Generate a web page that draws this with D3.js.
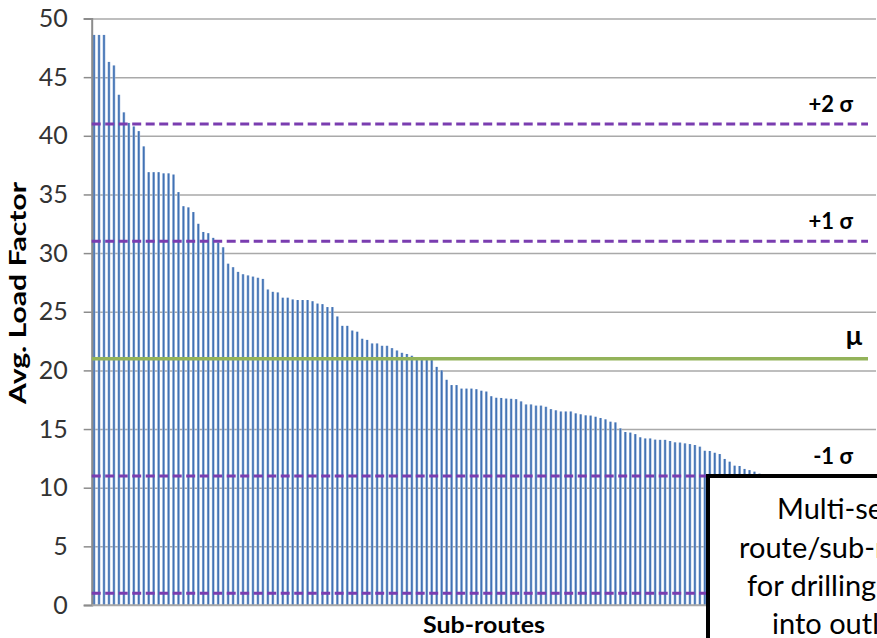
<!DOCTYPE html>
<html>
<head>
<meta charset="utf-8">
<script src="https://cdn.jsdelivr.net/npm/d3@7/dist/d3.min.js"></script>
<style>
  body { margin: 0; background: #fff; }
  #chart { width: 877px; height: 638px; overflow: hidden; }
</style>
</head>
<body>
<div id="chart"></div>
<script>
// Avg. load factor per sub-route, sorted descending (read off the picture;
// the tail under the call-out box is estimated)
const loadFactors = [
  48.6, 48.6, 48.6, 46.3, 46.0, 43.5, 42.0, 41.1, 40.8, 40.4,
  39.1, 36.9, 36.9, 36.9, 36.8, 36.8, 36.7, 35.2, 34.0, 33.9,
  33.5, 32.5, 31.8, 31.7, 31.3, 30.9, 30.5, 29.1, 28.8, 28.4,
  28.2, 28.1, 28.0, 27.9, 27.8, 26.9, 26.7, 26.65, 26.2, 26.2,
  26.05, 26.0, 26.0, 26.0, 25.9, 25.7, 25.65, 25.4, 25.4, 24.6,
  23.8, 23.8, 23.4, 23.3, 22.7, 22.6, 22.3, 22.3, 22.1, 22.1,
  21.9, 21.7, 21.5, 21.4, 21.25, 21.05, 21.0, 21.0, 20.9, 20.3,
  20.0, 19.2, 18.75, 18.75, 18.45, 18.45, 18.45, 18.4, 18.27, 18.2,
  17.8, 17.67, 17.65, 17.6, 17.58, 17.55, 17.36, 17.1, 17.1, 17.0,
  17.0, 16.9, 16.7, 16.6, 16.5, 16.5, 16.5, 16.34, 16.26, 16.17,
  16.15, 16.05, 15.94, 15.83, 15.63, 15.57, 15.06, 14.75, 14.7, 14.57,
  14.3, 14.2, 14.2, 14.1, 14.08, 14.08, 13.98, 13.87, 13.85, 13.78,
  13.72, 13.64, 13.5, 13.15, 13.13, 12.98, 12.87, 12.45, 12.22, 11.88,
  11.85, 11.6, 11.5, 11.37, 11.2, 11.0, 10.9, 10.7, 10.5, 10.3,
  10.0, 9.8, 9.5, 9.2, 9.0, 8.7, 8.3, 8.0, 7.6, 7.2,
  6.8, 6.3, 5.8, 5.2, 4.5, 3.6, 2.8, 2.0
];
const subRoutes = loadFactors.map((d, i) => "SR" + (i + 1));

const yTicks = [0, 5, 10, 15, 20, 25, 30, 35, 40, 45, 50];

// reference lines: mean and +/- sigma bands
const refLabels = ["+2 σ", "+1 σ", "μ", "-1 σ", "-2 σ"];
const refValues = [41, 31, 21, 11, 1];

const calloutLines = ["Multi-select", "route/sub-route", "for drilling down", "into outliers"];

class LoadFactorChart {
  constructor(_parentElement) {
    this.parentElement = _parentElement;
    this.initVis();
  }

  initVis() {
    let vis = this;

    vis.margin = { top: 18.5, right: 1, bottom: 33, left: 91.7 };
    vis.width = 877 - vis.margin.left - vis.margin.right;
    vis.height = 638 - vis.margin.top - vis.margin.bottom;

    vis.root = d3.select("#" + vis.parentElement)
      .append("svg")
      .attr("width", 877)
      .attr("height", 638);

    // bar gradient (light edges, darker core)
    let grad = vis.root.append("defs").append("linearGradient")
      .attr("id", "barGrad")
      .attr("x1", "0").attr("x2", "1").attr("y1", "0").attr("y2", "0");
    grad.append("stop").attr("offset", "0%").attr("stop-color", "#a2bbdf");
    grad.append("stop").attr("offset", "40%").attr("stop-color", "#4272b3");
    grad.append("stop").attr("offset", "60%").attr("stop-color", "#4272b3");
    grad.append("stop").attr("offset", "100%").attr("stop-color", "#a2bbdf");

    vis.svg = vis.root.append("g")
      .attr("transform", "translate(" + vis.margin.left + "," + vis.margin.top + ")");

    vis.x = d3.scaleBand().domain(subRoutes).range([0, vis.width]).paddingInner(0.45).paddingOuter(0.2);
    vis.y = d3.scaleLinear().domain([0, 50]).range([vis.height, 0]);

    vis.updateVis();
  }

  updateVis() {
    let vis = this;
    let font = "Lato, 'Noto Sans', sans-serif";

    // gridlines
    vis.svg.append("g")
      .attr("class", "grid")
      .call(d3.axisLeft(vis.y).tickValues(yTicks).tickSize(-vis.width).tickFormat(""))
      .call(g => g.select(".domain").remove())
      .call(g => g.selectAll("line").attr("stroke", "#a9a9a9").attr("stroke-width", 1.5));

    // bars
    vis.svg.selectAll(".bar")
      .data(loadFactors)
      .enter()
      .append("rect")
      .attr("class", "bar")
      .attr("x", (d, i) => vis.x(subRoutes[i]))
      .attr("width", vis.x.bandwidth())
      .attr("y", d => vis.y(d))
      .attr("height", d => vis.height - vis.y(d))
      .attr("fill", "url(#barGrad)");

    // y axis
    let yAxis = vis.svg.append("g")
      .attr("class", "y-axis")
      .call(d3.axisLeft(vis.y).tickValues(yTicks).tickSize(8).tickPadding(16));
    yAxis.select(".domain").attr("stroke", "#8c8c8c").attr("stroke-width", 2);
    yAxis.selectAll(".tick line").attr("stroke", "#8c8c8c").attr("stroke-width", 1.5);
    yAxis.selectAll(".tick text")
      .attr("fill", "#333")
      .style("font-family", font)
      .style("font-size", "25px");

    // bottom baseline
    vis.svg.append("line")
      .attr("x1", 0).attr("x2", vis.width)
      .attr("y1", vis.y(0)).attr("y2", vis.y(0))
      .attr("stroke", "#a9a9a9").attr("stroke-width", 1.5);

    // sigma / mean reference lines
    let lineEnd = 868 - vis.margin.left;
    vis.svg.selectAll(".ref-line")
      .data(refValues)
      .enter()
      .append("line")
      .attr("class", "ref-line")
      .attr("x1", 0).attr("x2", lineEnd)
      .attr("y1", d => vis.y(d)).attr("y2", d => vis.y(d))
      .attr("stroke", (d, i) => refLabels[i] === "μ" ? "#93b35a" : "#7a3db0")
      .attr("stroke-width", (d, i) => refLabels[i] === "μ" ? 3.5 : 3)
      .attr("stroke-dasharray", (d, i) => refLabels[i] === "μ" ? null : "9,4.5");

    vis.svg.selectAll(".ref-label")
      .data(refValues.slice(0, 4))
      .enter()
      .append("text")
      .attr("class", "ref-label")
      .attr("x", 853 - vis.margin.left)
      .attr("y", d => vis.y(d) - 12)
      .attr("text-anchor", "end")
      .style("font-family", font)
      .style("font-weight", "bold")
      .style("font-size", (d, i) => refLabels[i] === "μ" ? "27px" : "22px")
      .attr("dx", (d, i) => refLabels[i] === "μ" ? 9 : 0)
      .attr("dy", (d, i) => refLabels[i] === "μ" ? -2 : 0)
      .attr("fill", "#000")
      .text((d, i) => refLabels[i]);

    // axis titles
    vis.root.append("text")
      .attr("transform", "translate(26,293) rotate(-90)")
      .attr("text-anchor", "middle")
      .style("font-family", font)
      .style("font-weight", "bold")
      .style("font-size", "22px")
      .attr("textLength", 222)
      .attr("lengthAdjust", "spacingAndGlyphs")
      .attr("fill", "#000")
      .text("Avg. Load Factor");

    vis.root.append("text")
      .attr("x", 484)
      .attr("y", 633)
      .attr("text-anchor", "middle")
      .style("font-family", font)
      .style("font-weight", "bold")
      .style("font-size", "23px")
      .attr("textLength", 122)
      .attr("lengthAdjust", "spacingAndGlyphs")
      .attr("fill", "#000")
      .text("Sub-routes");

    // call-out box (runs off the right / bottom edge)
    vis.root.append("rect")
      .attr("x", 708).attr("y", 476)
      .attr("width", 300).attr("height", 200)
      .attr("fill", "#fff")
      .attr("stroke", "#000")
      .attr("stroke-width", 4);

    let lineX = [777, 739, 747, 772];
    let lineY = [519, 558, 596, 634];
    vis.root.selectAll(".callout")
      .data(calloutLines)
      .enter()
      .append("text")
      .attr("class", "callout")
      .attr("x", (d, i) => lineX[i])
      .attr("y", (d, i) => lineY[i])
      .style("font-family", font)
      .style("font-size", "29px")
      .attr("fill", "#000")
      .text(d => d);
  }
}

new LoadFactorChart("chart");
</script>
</body>
</html>
